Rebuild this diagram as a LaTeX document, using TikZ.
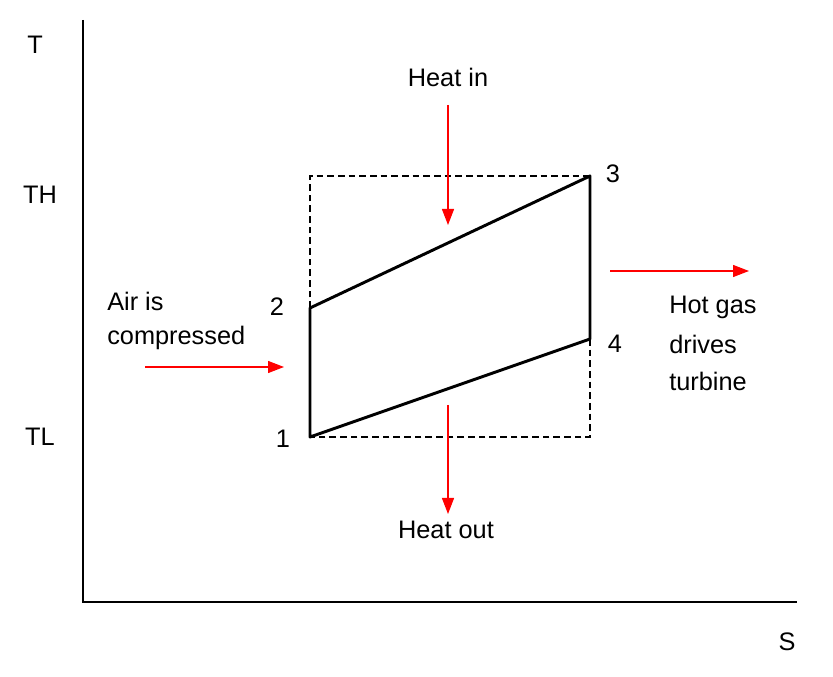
\documentclass[tikz,border=0pt]{standalone}
\usepackage{fontspec}
\setmainfont{Liberation Sans}
\usetikzlibrary{arrows.meta}
\begin{document}
\begin{tikzpicture}[x=0.75pt,y=-0.75pt,
  lbl/.style={font=\fontsize{19}{23}\selectfont,inner sep=0pt},
  cyc/.style={line width=2.2pt},
  dsh/.style={line width=1.8pt,dash pattern=on 5pt off 3pt},
  redarr/.style={red,line width=1pt,-{Triangle[length=12pt,width=9pt]}},
  ax/.style={line width=1pt}]
\useasboundingbox (0,0) rectangle (833,677);
\coordinate (o) at (83,602);
\coordinate (ty) at (83,20);
\coordinate (sx) at (797,602);
\draw[ax] (ty) -- (o) -- (sx);
\node[lbl] (T) at (35,45) {T};
\node[lbl] (S) at (787,642) {S};
\node[lbl] (TH) at (40,195) {TH};
\node[lbl] (TL) at (40,437) {TL};
\coordinate (p1) at (310,437);
\coordinate (p2) at (310,308);
\coordinate (p3) at (590,176);
\coordinate (p4) at (590,339);
\coordinate (c1) at (310,176);
\coordinate (c2) at (590,437);
\draw[dsh] (p2) -- (c1) -- (p3);
\draw[dsh] (p4) -- (c2) -- (p1);
\draw[cyc,line join=round] (p1) -- (p2) -- (p3) -- (p4) -- cycle;
\node[lbl] (n1) at (283,439) {1};
\node[lbl] (n2) at (277,307) {2};
\node[lbl] (n3) at (613,174) {3};
\node[lbl] (n4) at (615,344) {4};
\node[lbl] (hin) at (448,77) {Heat in};
\coordinate (hina) at (448,105);
\coordinate (hinb) at (448,225);
\draw[redarr] (hina) -- (hinb);
\coordinate (houta) at (448,405);
\coordinate (houtb) at (448,514);
\draw[redarr] (houta) -- (houtb);
\node[lbl] (hout) at (446,530) {Heat out};
\node[lbl,anchor=west] (air1) at (107,301) {Air is};
\node[lbl,anchor=west] (air2) at (107,338) {compressed};
\coordinate (aira) at (145,367);
\coordinate (airb) at (284,367);
\draw[redarr] (aira) -- (airb);
\node[lbl,anchor=west] (hot1) at (669,307) {Hot gas};
\node[lbl,anchor=west] (hot2) at (669,344) {drives};
\node[lbl,anchor=west] (hot3) at (669,381) {turbine};
\coordinate (hota) at (610,271);
\coordinate (hotb) at (749,271);
\draw[redarr] (hota) -- (hotb);
\end{tikzpicture}
\end{document}
